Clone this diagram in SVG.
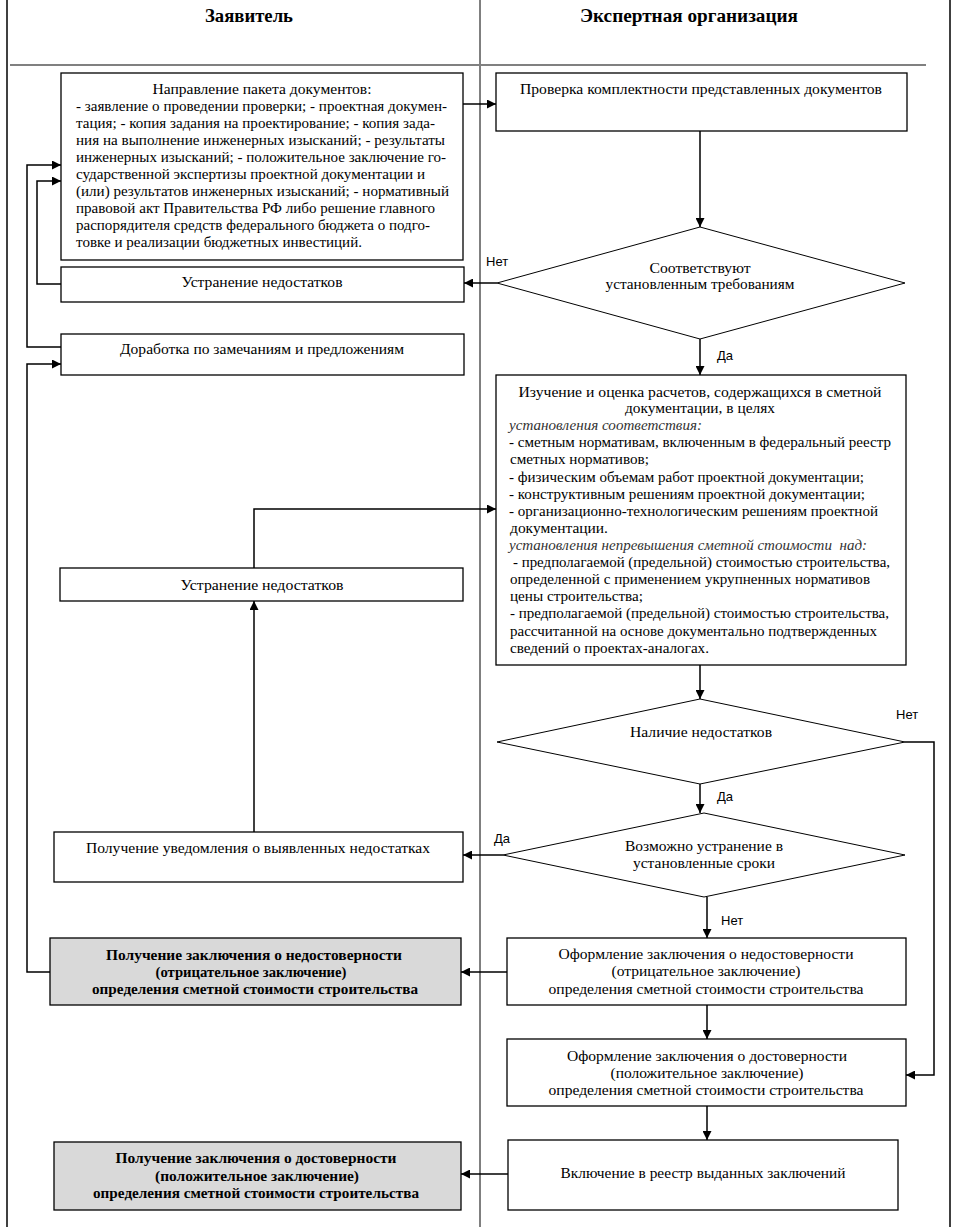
<svg xmlns="http://www.w3.org/2000/svg" width="961" height="1230" viewBox="0 0 961 1230" font-family="'Liberation Serif', 'DejaVu Serif', serif">
<defs>
<marker id="arr" markerWidth="9" markerHeight="9" refX="9" refY="4.5" orient="auto" markerUnits="userSpaceOnUse"><path d="M0,0 L9,4.5 L0,9 z" fill="#000"/></marker>
<style>
.t{font-family:'Liberation Serif','DejaVu Serif',serif;font-size:15px;fill:#000}
.c{text-anchor:middle}
.b{font-weight:bold}
.i{font-style:italic;fill:#333}
.h{font-family:'Liberation Serif','DejaVu Serif',serif;font-size:18px;font-weight:bold;text-anchor:middle}
.lbl{font-family:'Liberation Sans',Arial,sans-serif;font-size:13px}
.box{fill:#fff;stroke:#000;stroke-width:1.3}
.gray{fill:#d9d9d9;stroke:#000;stroke-width:1.3}
.dia{fill:#fff;stroke:#000;stroke-width:1}
.con{fill:none;stroke:#000;stroke-width:1.5;marker-end:url(#arr)}
</style>
</defs>
<rect width="961" height="1230" fill="#fff"/>
<g id="frame">
<line x1="7" y1="0" x2="7" y2="1227" stroke="#000" stroke-width="1.5"/>
<line x1="480" y1="0" x2="480" y2="1227" stroke="#000" stroke-width="1"/>
<line x1="950" y1="0" x2="950" y2="1227" stroke="#000" stroke-width="1.5"/>
<line x1="10" y1="65" x2="926" y2="65" stroke="#808080" stroke-width="2"/>
<text class="h" x="249" y="22" textLength="88" lengthAdjust="spacingAndGlyphs">Заявитель</text>
<text class="h" x="689" y="22" textLength="218" lengthAdjust="spacingAndGlyphs">Экспертная организация</text>
</g>
<g id="connectors">
<path class="con" d="M463,104 H496"/>
<path class="con" d="M700,131 V227"/>
<path class="con" d="M497,283 H464"/>
<path class="con" d="M700,339 V375"/>
<path class="con" d="M61,284 H37 V181 H61"/>
<path class="con" d="M61,347 H27 V165 H61"/>
<path class="con" d="M50,972 H27 V364 H61"/>
<path class="con" d="M254,832 V601"/>
<path class="con" d="M254,568 V509 H496"/>
<path class="con" d="M700,665 V699"/>
<path class="con" d="M700,784 V813"/>
<path class="con" d="M905,742 H934 V1075 H906"/>
<path class="con" d="M503,855 H463"/>
<path class="con" d="M707,897 V938"/>
<path class="con" d="M507,972 H461"/>
<path class="con" d="M707,1005 V1039"/>
<path class="con" d="M707,1106 V1140"/>
<path class="con" d="M508,1174 H461"/>
<text class="lbl" x="486" y="266">Нет</text>
<text class="lbl" x="717" y="360">Да</text>
<text class="lbl" x="896" y="719">Нет</text>
<text class="lbl" x="717" y="801">Да</text>
<text class="lbl" x="494" y="843">Да</text>
<text class="lbl" x="721" y="925">Нет</text>
</g>
<g id="n-paket">
<rect class="box" x="61" y="73" width="402" height="187"/>
<text class="t c" x="262" y="94" textLength="219" lengthAdjust="spacingAndGlyphs">Направление пакета документов:</text>
<text class="t" x="76" y="111" textLength="371" lengthAdjust="spacingAndGlyphs">- заявление о проведении проверки; - проектная докумен-</text>
<text class="t" x="76" y="128" textLength="359" lengthAdjust="spacingAndGlyphs">тация; - копия задания на проектирование; - копия зада-</text>
<text class="t" x="76" y="145" textLength="369" lengthAdjust="spacingAndGlyphs">ния на выполнение инженерных изысканий; - результаты</text>
<text class="t" x="76" y="162" textLength="370" lengthAdjust="spacingAndGlyphs">инженерных изысканий; - положительное заключение го-</text>
<text class="t" x="76" y="179" textLength="349" lengthAdjust="spacingAndGlyphs">сударственной экспертизы проектной документации и</text>
<text class="t" x="76" y="196" textLength="373" lengthAdjust="spacingAndGlyphs">(или) результатов инженерных изысканий; - нормативный</text>
<text class="t" x="76" y="213" textLength="359" lengthAdjust="spacingAndGlyphs">правовой акт Правительства РФ либо решение главного</text>
<text class="t" x="76" y="230" textLength="354" lengthAdjust="spacingAndGlyphs">распорядителя средств федерального бюджета о подго-</text>
<text class="t" x="76" y="247" textLength="286" lengthAdjust="spacingAndGlyphs">товке и реализации бюджетных инвестиций.</text>
</g>
<g id="n-ustr1">
<rect class="box" x="61" y="267" width="403" height="35"/>
<text class="t c" x="262" y="287" textLength="161" lengthAdjust="spacingAndGlyphs">Устранение недостатков</text>
</g>
<g id="n-dorab">
<rect class="box" x="61" y="334" width="403" height="41"/>
<text class="t c" x="262" y="354" textLength="284" lengthAdjust="spacingAndGlyphs">Доработка по замечаниям и предложениям</text>
</g>
<g id="n-prov">
<rect class="box" x="496" y="73" width="411" height="58"/>
<text class="t c" x="701" y="94" textLength="362" lengthAdjust="spacingAndGlyphs">Проверка комплектности представленных документов</text>
</g>
<g id="d-sootv">
<polygon class="dia" points="700,227 905,283 700,339 497,283"/>
<text class="t c" x="700" y="273" textLength="101" lengthAdjust="spacingAndGlyphs">Соответствуют</text>
<text class="t c" x="700" y="289" textLength="189" lengthAdjust="spacingAndGlyphs">установленным требованиям</text>
</g>
<g id="n-izuch">
<rect class="box" x="496" y="375" width="410" height="290"/>
<text class="t c" x="700" y="397" textLength="363" lengthAdjust="spacingAndGlyphs">Изучение и оценка расчетов, содержащихся в сметной</text>
<text class="t c" x="700" y="413" textLength="150" lengthAdjust="spacingAndGlyphs">документации, в целях</text>
<text class="t i" x="509" y="430" textLength="193" lengthAdjust="spacingAndGlyphs">установления соответствия:</text>
<text class="t" x="509" y="447" textLength="382" lengthAdjust="spacingAndGlyphs">- сметным нормативам, включенным в федеральный реестр</text>
<text class="t" x="510" y="464" textLength="139" lengthAdjust="spacingAndGlyphs">сметных нормативов;</text>
<text class="t" x="509" y="482" textLength="355" lengthAdjust="spacingAndGlyphs">- физическим объемам работ проектной документации;</text>
<text class="t" x="509" y="499" textLength="356" lengthAdjust="spacingAndGlyphs">- конструктивным решениям проектной документации;</text>
<text class="t" x="509" y="516" textLength="369" lengthAdjust="spacingAndGlyphs">- организационно-технологическим решениям проектной</text>
<text class="t" x="510" y="533" textLength="98" lengthAdjust="spacingAndGlyphs">документации.</text>
<text class="t i" x="509" y="550" textLength="358" lengthAdjust="spacingAndGlyphs" xml:space="preserve">установления непревышения сметной стоимости  над:</text>
<text class="t" x="513" y="567" textLength="377" lengthAdjust="spacingAndGlyphs">- предполагаемой (предельной) стоимостью строительства,</text>
<text class="t" x="510" y="584" textLength="360" lengthAdjust="spacingAndGlyphs">определенной с применением укрупненных нормативов</text>
<text class="t" x="510" y="601" textLength="133" lengthAdjust="spacingAndGlyphs">цены строительства;</text>
<text class="t" x="510" y="618" textLength="379" lengthAdjust="spacingAndGlyphs">- предполагаемой (предельной) стоимостью строительства,</text>
<text class="t" x="510" y="636" textLength="367" lengthAdjust="spacingAndGlyphs">рассчитанной на основе документально подтвержденных</text>
<text class="t" x="510" y="653" textLength="199" lengthAdjust="spacingAndGlyphs">сведений о проектах-аналогах.</text>
</g>
<g id="n-ustr2">
<rect class="box" x="60" y="568" width="403" height="33"/>
<text class="t c" x="262" y="590" textLength="163" lengthAdjust="spacingAndGlyphs">Устранение недостатков</text>
</g>
<g id="d-nalich">
<polygon class="dia" points="700,699 905,742 700,784 497,742"/>
<text class="t c" x="701" y="737" textLength="142" lengthAdjust="spacingAndGlyphs">Наличие недостатков</text>
</g>
<g id="d-vozm">
<polygon class="dia" points="704,813 905,855 704,897 503,855"/>
<text class="t c" x="704" y="851" textLength="158" lengthAdjust="spacingAndGlyphs">Возможно устранение в</text>
<text class="t c" x="704" y="868" textLength="142" lengthAdjust="spacingAndGlyphs">установленные сроки</text>
</g>
<g id="n-uved">
<rect class="box" x="54" y="832" width="409" height="50"/>
<text class="t c" x="258" y="853" textLength="344" lengthAdjust="spacingAndGlyphs">Получение уведомления о выявленных недостатках</text>
</g>
<g id="n-oform-neg">
<rect class="box" x="507" y="938" width="399" height="67"/>
<text class="t c" x="706" y="959" textLength="295" lengthAdjust="spacingAndGlyphs">Оформление заключения о недостоверности</text>
<text class="t c" x="706" y="976" textLength="189" lengthAdjust="spacingAndGlyphs">(отрицательное заключение)</text>
<text class="t c" x="706" y="994" textLength="315" lengthAdjust="spacingAndGlyphs">определения сметной стоимости строительства</text>
</g>
<g id="n-poluch-neg">
<rect class="gray" x="50" y="938" width="411" height="67"/>
<text class="t c b" x="254" y="960" textLength="296" lengthAdjust="spacingAndGlyphs">Получение заключения о недостоверности</text>
<text class="t c b" x="251" y="977" textLength="191" lengthAdjust="spacingAndGlyphs">(отрицательное заключение)</text>
<text class="t c b" x="255" y="994" textLength="326" lengthAdjust="spacingAndGlyphs">определения сметной стоимости строительства</text>
</g>
<g id="n-oform-pos">
<rect class="box" x="507" y="1039" width="399" height="67"/>
<text class="t c" x="707" y="1061" textLength="280" lengthAdjust="spacingAndGlyphs">Оформление заключения о достоверности</text>
<text class="t c" x="707" y="1078" textLength="193" lengthAdjust="spacingAndGlyphs">(положительное заключение)</text>
<text class="t c" x="706" y="1095" textLength="315" lengthAdjust="spacingAndGlyphs">определения сметной стоимости строительства</text>
</g>
<g id="n-vkl">
<rect class="box" x="508" y="1140" width="390" height="70"/>
<text class="t c" x="703" y="1178" textLength="285" lengthAdjust="spacingAndGlyphs">Включение в реестр выданных заключений</text>
</g>
<g id="n-poluch-pos">
<rect class="gray" x="54" y="1142" width="407" height="68"/>
<text class="t c b" x="256" y="1163" textLength="281" lengthAdjust="spacingAndGlyphs">Получение заключения о достоверности</text>
<text class="t c b" x="257" y="1181" textLength="204" lengthAdjust="spacingAndGlyphs">(положительное заключение)</text>
<text class="t c b" x="256" y="1198" textLength="326" lengthAdjust="spacingAndGlyphs">определения сметной стоимости строительства</text>
</g>
</svg>
